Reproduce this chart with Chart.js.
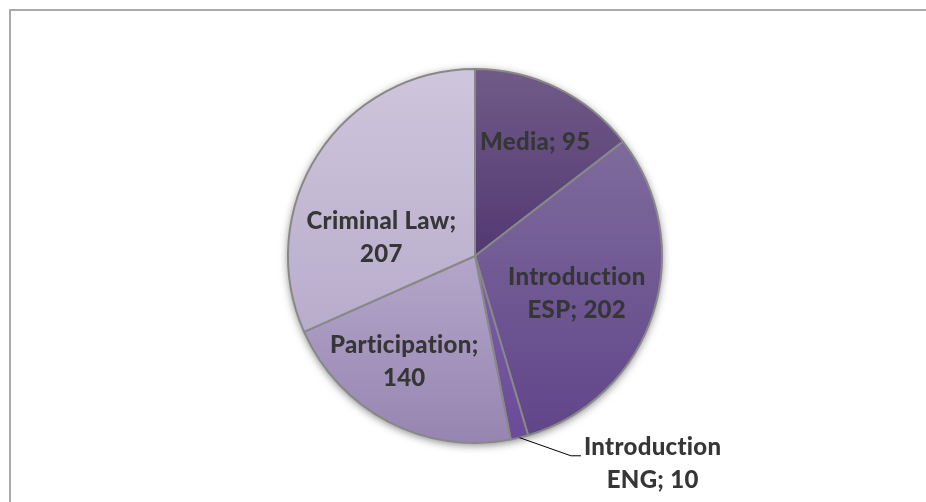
<!DOCTYPE html>
<html>
<head>
<meta charset="utf-8">
<script src="https://cdn.jsdelivr.net/npm/chart.js@4.4.1/dist/chart.umd.min.js"></script>
<style>
    html, body { margin: 0; padding: 0; background: #fff; overflow: hidden; }
    #wrap { position: relative; width: 926px; height: 502px; }
    #frame { position: absolute; left: 9px; top: 9px; width: 1000px; height: 1000px;
             border-left: 2px solid #ababab; border-top: 2px solid #ababab; }
    canvas { position: absolute; left: 0; top: 0; font-variant-ligatures: none; }
</style>
</head>
<body>
<div id="wrap">
    <div id="frame"></div>
    <canvas id="pieChart" width="926" height="502"></canvas>
</div>
<script>
const categories = ['Media', 'Introduction ESP', 'Introduction ENG', 'Participation', 'Criminal Law'];
const values = [95, 202, 10, 140, 207];

// slice shading: lighter at the top of each slice, darker at the bottom
const topColors = ['#705b88', '#7e6b9c', '#7d60a9', '#b4a6ca', '#cec6dc'];
const bottomColors = ['#533872', '#61458a', '#694b97', '#9785b1', '#b8accb'];

// where each label sits: angle in degrees clockwise from 12 o'clock, distance as share of radius
const labelSpots = [
    { angle: 27.8, dist: 0.69 },
    { angle: 110.2, dist: 0.58 },
    { angle: 139.4, dist: 1.46, outside: true },
    { angle: 213.8, dist: 0.68 },
    { angle: 281, dist: 0.51 }
];

const FONT = "900 24px Lato, 'Open Sans', sans-serif";
const LINE_H = 33;

function arcYRange(arc) {
    const p = arc.getProps(['x', 'y', 'startAngle', 'endAngle', 'outerRadius'], true);
    const ys = [p.y, p.y + p.outerRadius * Math.sin(p.startAngle), p.y + p.outerRadius * Math.sin(p.endAngle)];
    [Math.PI / 2, 3 * Math.PI / 2].forEach(a => {
        if (a > p.startAngle && a < p.endAngle) ys.push(p.y + p.outerRadius * Math.sin(a));
    });
    return [Math.min(...ys), Math.max(...ys)];
}

function wrapText(ctx, text, maxW) {
    const words = text.split(' ');
    const lines = [];
    let cur = '';
    words.forEach(w => {
        const test = cur ? cur + ' ' + w : w;
        if (cur && ctx.measureText(test).width > maxW) {
            lines.push(cur);
            cur = w;
        } else {
            cur = test;
        }
    });
    if (cur) lines.push(cur);
    return lines;
}

const shadingPlugin = {
    id: 'shading',
    beforeDatasetsDraw(chart) {
        const ctx = chart.ctx;
        const arcs = chart.getDatasetMeta(0).data;
        if (!arcs.length) return;
        const a0 = arcs[0];
        // soft shadow under the pie
        ctx.save();
        ctx.shadowColor = 'rgba(0,0,0,0.5)';
        ctx.shadowBlur = 8;
        ctx.shadowOffsetX = 0;
        ctx.shadowOffsetY = 2;
        ctx.fillStyle = '#9a8aae';
        ctx.beginPath();
        ctx.arc(a0.x, a0.y, a0.outerRadius, 0, Math.PI * 2);
        ctx.fill();
        ctx.restore();

        arcs.forEach((arc, i) => {
            const [y1, y2] = arcYRange(arc);
            const g = ctx.createLinearGradient(0, y1, 0, y2);
            g.addColorStop(0, topColors[i]);
            g.addColorStop(1, bottomColors[i]);
            arc.options.backgroundColor = g;
        });
    }
};

const labelPlugin = {
    id: 'sliceLabels',
    afterDatasetsDraw(chart) {
        const ctx = chart.ctx;
        const arcs = chart.getDatasetMeta(0).data;
        ctx.save();
        ctx.font = FONT;
        // a little tracking also stops Lato from joining "ti" into a ligature
        ctx.letterSpacing = '0.3px';
        ctx.fillStyle = '#363636';
        ctx.textAlign = 'center';
        ctx.textBaseline = 'middle';
        arcs.forEach((arc, i) => {
            const spot = labelSpots[i];
            const r = arc.outerRadius;
            const a = spot.angle * Math.PI / 180;
            const cx = arc.x + Math.sin(a) * r * spot.dist;
            const cy = arc.y - Math.cos(a) * r * spot.dist;
            const lines = wrapText(ctx, categories[i] + '; ' + values[i], 172);
            const firstY = cy - (lines.length - 1) * LINE_H / 2;
            lines.forEach((ln, k) => ctx.fillText(ln, cx, firstY + k * LINE_H));

            if (spot.outside) {
                const mid = (arc.startAngle + arc.endAngle) / 2;
                const sx = arc.x + Math.cos(mid) * r;
                const sy = arc.y + Math.sin(mid) * r;
                const textLeft = cx - ctx.measureText(lines[0]).width / 2;
                const ly = firstY + 9;
                ctx.strokeStyle = '#000';
                ctx.lineWidth = 1;
                ctx.beginPath();
                ctx.moveTo(sx, sy);
                ctx.lineTo(textLeft - 13, ly);
                ctx.lineTo(textLeft - 3, ly);
                ctx.stroke();
            }
        });
        ctx.restore();
    }
};

new Chart(document.getElementById('pieChart').getContext('2d'), {
    type: 'pie',
    data: {
        labels: categories,
        datasets: [{
            data: values,
            backgroundColor: topColors,
            borderColor: '#888888',
            borderWidth: 2
        }]
    },
    options: {
        responsive: false,
        animation: false,
        layout: { padding: { top: 68, bottom: 58, left: 287, right: 263 } },
        plugins: { legend: { display: false }, tooltip: { enabled: false } }
    },
    plugins: [shadingPlugin, labelPlugin]
});
</script>
</body>
</html>
